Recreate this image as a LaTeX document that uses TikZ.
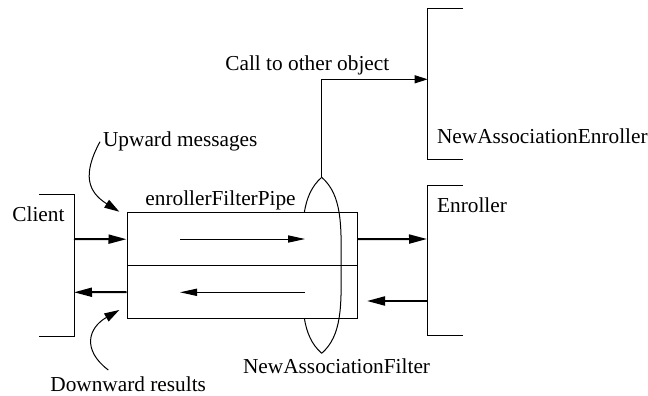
\documentclass[tikz,border=0pt]{standalone}
\usepackage{fontspec}
\setmainfont{Liberation Serif}
\newfontfamily\timesfont{Liberation Serif}
\usetikzlibrary{arrows.meta}

\begin{document}
\begin{tikzpicture}[x=0.5pt,y=-0.5pt,
		bracket/.style={line width=0.5pt},
		thickarrow/.style={line width=1pt,-{Triangle[length=9pt,width=4.5pt]}},
		thinarrow/.style={line width=0.5pt,-{Triangle[length=8.5pt,width=3.6pt]}},
		callarrow/.style={line width=0.5pt,-{Triangle[length=6.5pt,width=4pt]}},
		hint/.style={line width=0.5pt,-{Triangle[length=7.5pt,width=4.5pt]}},
		txt/.style={anchor=base west,inner sep=0pt,font=\timesfont\fontsize{10.65}{12.8}\selectfont},
		pipehalf/.style={draw,line width=0.5pt,fill=white,inner sep=0pt,minimum width=115pt,minimum height=26.5pt}]
		
		\useasboundingbox (0,0) rectangle (648,396);
		
		% Client
		\draw[bracket] (39,194.7) -- (74,194.7) -- (74,336) -- (39,336);
		\coordinate (clientin) at (74,239);
		\coordinate (clientout) at (74,292.3);
		\node[txt] (client) at (12,221.7) {Client};
		
		% Filter ring, back half
		\coordinate (lenstop) at (321.7,177.3);
		\coordinate (lensbot) at (321.7,353.3);
		\draw[bracket] (lenstop) .. controls (301.4,195) and (301.9,225) .. (302.4,265.3) .. controls (301.9,305.6) and (301.4,335.6) .. (lensbot);
		
		% Pipe
		\node[pipehalf] (pipeup) at (242,239.2) {};
		\node[pipehalf] (pipedn) at (242,292.1) {};
		\node[txt] (pipename) at (145,205) {enrollerFilterPipe};
		\coordinate (upfrom) at (180,239);
		\coordinate (upto) at (305,239);
		\coordinate (dnfrom) at (305,292.3);
		\coordinate (dnto) at (180,292.3);
		\draw[thinarrow] (upfrom) -- (upto);
		\draw[thinarrow] (dnfrom) -- (dnto);
		
		% Filter ring, front half
		\draw[bracket] (lenstop) .. controls (342,195) and (341.5,225) .. (341,265.3) .. controls (341.5,305.6) and (342,335.6) .. (lensbot);
		\node[txt] (filtername) at (242.7,373.3) {NewAssociationFilter};
		
		% Enroller
		\draw[bracket] (462.7,185.7) -- (427,185.7) -- (427,335.7) -- (462.7,335.7);
		\coordinate (enrin) at (427,239);
		\coordinate (enrout) at (427,301);
		\coordinate (enrback) at (367,301);
		\node[txt] (enroller) at (436.7,212.7) {Enroller};
		
		% NewAssociationEnroller
		\draw[bracket] (463,8) -- (427.7,8) -- (427.7,159) -- (463,159);
		\coordinate (naein) at (427.7,79.3);
		\node[txt] (naename) at (436.7,143.3) {NewAssociationEnroller};
		
		% Messages
		\draw[thickarrow] (clientin) -- (pipeup.west);
		\draw[thickarrow] (pipedn.west) -- (clientout);
		\draw[thickarrow] (pipeup.east) -- (enrin);
		\draw[thickarrow] (enrout) -- (enrback);
		\draw[callarrow] (lenstop) |- (naein);
		\node[txt] (calltext) at (225,70.7) {Call to other object};
		
		% Annotations
		\coordinate (upstart) at (100,141.7);
		\coordinate (uptip) at (119.3,211.7);
		\draw[hint] (upstart) .. controls (82,175) and (88,192) .. (uptip);
		\node[txt] (upnote) at (102.7,146.7) {Upward messages};
		\coordinate (downstart) at (108.3,370);
		\coordinate (downtip) at (119.3,310);
		\draw[hint] (downstart) .. controls (82,350) and (88,328) .. (downtip);
		\node[txt] (downnote) at (50,391) {Downward results};
		
\end{tikzpicture}
\end{document}
